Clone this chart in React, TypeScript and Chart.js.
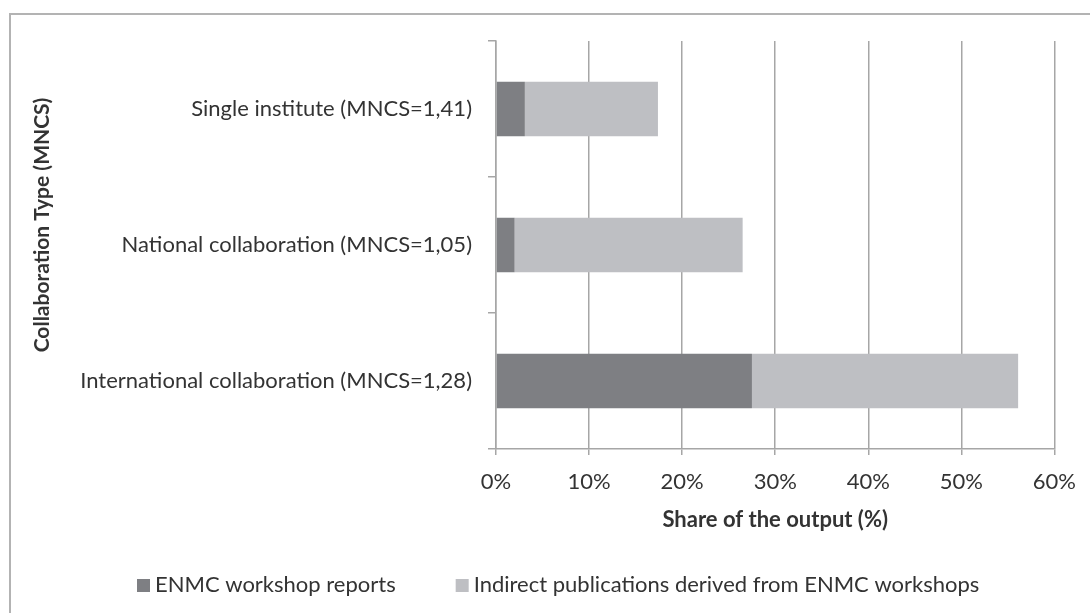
import React, { useEffect, useRef } from "react";
import { Chart, registerables } from "chart.js";

Chart.register(...registerables);

const categories = [
  "Single institute (MNCS=1,41)",
  "National collaboration (MNCS=1,05)",
  "International collaboration (MNCS=1,28)",
];
const enmcReports = [3.1, 2.0, 27.5];
const indirectPubs = [14.3, 24.5, 28.6];
const seriesNames = ["ENMC workshop reports", "Indirect publications derived from ENMC workshops"];
const xTicks = [0, 10, 20, 30, 40, 50, 60];
const yTitle = "Collaboration Type (MNCS)";
const xTitle = "Share of the output (%)";

const FONT = "Lato, 'Open Sans', sans-serif";
const DARK = "#7e7f83";
const LIGHT = "#bebfc3";
const GRID = "#a6a6a6";
const TEXT = "#333333";

const decorPlugin = {
  id: "decor",
  beforeDraw(chart: any) {
    const ctx = chart.ctx;
    ctx.save();
    ctx.fillStyle = "#ffffff";
    ctx.fillRect(0, 0, chart.width, chart.height);
    ctx.strokeStyle = "#b3b3b3";
    ctx.lineWidth = 2;
    ctx.beginPath();
    ctx.moveTo(10, chart.height + 5);
    ctx.lineTo(10, 14);
    ctx.lineTo(chart.width + 5, 14);
    ctx.stroke();
    ctx.restore();
  },
  afterDraw(chart: any) {
    const ctx = chart.ctx;
    ctx.save();
    // y-axis title
    ctx.fillStyle = TEXT;
    ctx.font = `bold 21px ${FONT}`;
    ctx.textAlign = "center";
    ctx.textBaseline = "middle";
    ctx.translate(42, 225);
    ctx.rotate(-Math.PI / 2);
    ctx.fillText(yTitle, 0, 0);
    ctx.restore();

    // legend
    ctx.save();
    ctx.font = `22px ${FONT}`;
    ctx.textBaseline = "middle";
    ctx.textAlign = "left";
    let x = 137;
    const y = 585;
    chart.data.datasets.forEach((ds: any) => {
      ctx.fillStyle = ds.backgroundColor;
      ctx.fillRect(x, y - 6, 13, 13);
      ctx.fillStyle = TEXT;
      ctx.fillText(ds.label, x + 18, y);
      x += 18 + ctx.measureText(ds.label).width + 60;
    });
    ctx.restore();
  },
};

export default function App() {
  const ref = useRef<HTMLCanvasElement>(null);
  useEffect(() => {
    if (!ref.current) return;
    const chart = new Chart(ref.current, {
      type: "bar",
      data: {
        labels: categories,
        datasets: [
          { label: seriesNames[0], data: enmcReports, backgroundColor: DARK, borderWidth: 0 },
          { label: seriesNames[1], data: indirectPubs, backgroundColor: LIGHT, borderWidth: 0 },
        ],
      },
      options: {
        indexAxis: "y",
        responsive: false,
        animation: false,
        events: [],
        datasets: { bar: { categoryPercentage: 1, barPercentage: 0.4 } },
        layout: { padding: { top: 41, left: 0, right: 33, bottom: 0 } },
        plugins: { legend: { display: false }, tooltip: { enabled: false } },
        scales: {
          x: {
            stacked: true,
            min: 0,
            max: 60,
            afterBuildTicks: (s: any) => {
              s.ticks = xTicks.map((v) => ({ value: v }));
            },
            afterFit: (s: any) => {
              s.height = 164;
            },
            ticks: {
              callback: (v: any) => `${v}%`,
              color: TEXT,
              font: { family: FONT, size: 22 },
              padding: 14,
              maxRotation: 0,
            },
            grid: { color: GRID, lineWidth: 1.5, tickLength: 6, drawTicks: true },
            border: { color: GRID, width: 1.5 },
            title: {
              display: true,
              text: xTitle,
              color: TEXT,
              font: { family: FONT, size: 22, weight: "bold" },
              padding: { top: 0, bottom: 80 },
            },
          },
          y: {
            stacked: true,
            afterFit: (s: any) => {
              s.width = 496;
            },
            ticks: {
              color: TEXT,
              font: { family: FONT, size: 22 },
              padding: 16,
            },
            grid: {
              color: GRID,
              lineWidth: 1.5,
              drawOnChartArea: false,
              drawTicks: true,
              tickLength: 8,
              offset: true,
            },
            border: { color: GRID, width: 1.5 },
          },
        },
      },
      plugins: [decorPlugin],
    });
    return () => chart.destroy();
  }, []);
  return (
    <div style={{ position: "absolute", left: 0, top: 0, width: 1090, height: 613 }}>
      <canvas ref={ref} width={1090} height={613} />
    </div>
  );
}
